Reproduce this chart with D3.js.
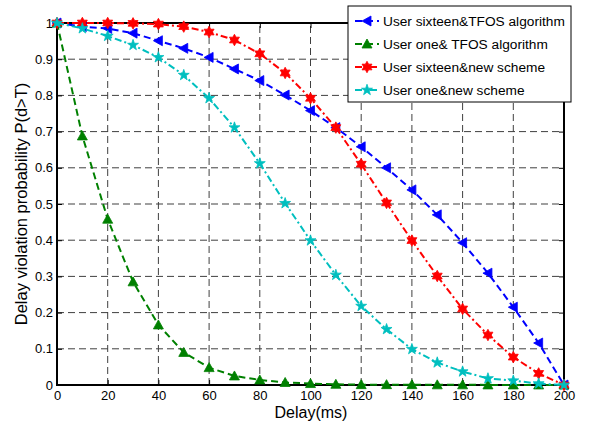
<!DOCTYPE html>
<html>
<head>
<meta charset="utf-8">
<script src="https://cdn.jsdelivr.net/npm/d3@7"></script>
<style>
  html, body { margin: 0; padding: 0; background: #fff; }
  svg { display: block; font-family: "Liberation Sans", Arial, sans-serif; }
</style>
</head>
<body>
<svg id="chart" width="592" height="423"></svg>
<script>
// Delay axis (ms), sampled every 10 ms
const delays = [0, 10, 20, 30, 40, 50, 60, 70, 80, 90, 100, 110, 120, 130, 140, 150, 160, 170, 180, 190, 200];

const sixteenTFOS = [1.0, 0.99, 0.985, 0.972, 0.951, 0.93, 0.905, 0.873, 0.841, 0.801, 0.758, 0.711, 0.658, 0.600, 0.539, 0.47, 0.393, 0.309, 0.215, 0.116, 0.0];
const oneTFOS = [1.0, 0.688, 0.458, 0.285, 0.166, 0.09, 0.048, 0.025, 0.014, 0.007, 0.004, 0.002, 0.001, 0.001, 0.001, 0.0005, 0.0005, 0.0003, 0.0002, 0.0001, 0.0];
const sixteenNew = [1.0, 1.0, 1.0, 0.999, 0.997, 0.99, 0.975, 0.953, 0.915, 0.862, 0.792, 0.711, 0.61, 0.503, 0.399, 0.301, 0.21, 0.138, 0.077, 0.032, 0.0];
const oneNew = [1.0, 0.985, 0.964, 0.939, 0.905, 0.856, 0.792, 0.711, 0.612, 0.502, 0.399, 0.304, 0.218, 0.154, 0.099, 0.062, 0.037, 0.018, 0.012, 0.004, 0.0];

const xTicks = [0, 20, 40, 60, 80, 100, 120, 140, 160, 180, 200];
const yTicks = [0, 0.1, 0.2, 0.3, 0.4, 0.5, 0.6, 0.7, 0.8, 0.9, 1];
const yTickLabels = ["0", "0.1", "0.2", "0.3", "0.4", "0.5", "0.6", "0.7", "0.8", "0.9", "1"];

const seriesNames = ["User sixteen&TFOS algorithm", "User one& TFOS algorithm", "User sixteen&new scheme", "User one&new scheme"];
const seriesValues = [sixteenTFOS, oneTFOS, sixteenNew, oneNew];
const seriesColors = ["#0000ff", "#008000", "#ff0000", "#00bfbf"];
const seriesDash = ["7,4", "7,4", "7,3,2,3", "7,3,2,3"];
const seriesMarker = ["triLeft", "triUp", "hexagram", "pentagram"];

const svg = d3.select("#chart");
const L = 57, R = 564, T = 23, B = 385;

const x = d3.scaleLinear().domain([0, 200]).range([L, R]);
const y = d3.scaleLinear().domain([0, 1]).range([B, T]);

// Grid lines
const grid = svg.append("g").attr("stroke", "#000").attr("stroke-width", 1)
  .attr("stroke-dasharray", "7,4").attr("opacity", 0.75);
xTicks.slice(1, -1).forEach(v => {
  grid.append("line").attr("x1", x(v)).attr("x2", x(v)).attr("y1", B).attr("y2", T);
});
yTicks.slice(1, -1).forEach(v => {
  grid.append("line").attr("x1", L).attr("x2", R).attr("y1", y(v)).attr("y2", y(v));
});

// Axes with inward ticks
const xAxis = d3.axisBottom(x).tickValues(xTicks).tickSizeInner(-5).tickSizeOuter(0).tickPadding(7);
const yAxis = d3.axisLeft(y).tickValues(yTicks).tickFormat((d, i) => yTickLabels[i]).tickSizeInner(-5).tickSizeOuter(0).tickPadding(4);

const gx = svg.append("g").attr("transform", `translate(0,${B})`).call(xAxis);
const gy = svg.append("g").attr("transform", `translate(${L},0)`).call(yAxis);
[gx, gy].forEach(g => {
  g.select(".domain").remove();
  g.selectAll("text").attr("font-size", 13).attr("fill", "#000");
  g.selectAll(".tick line").attr("stroke", "#000");
});
gx.selectAll("text").attr("dy", "0.6em");

// Mirror ticks on top and right
const gTop = svg.append("g").attr("transform", `translate(0,${T})`)
  .call(d3.axisTop(x).tickValues(xTicks).tickSizeInner(-5).tickSizeOuter(0).tickFormat(""));
const gRight = svg.append("g").attr("transform", `translate(${R},0)`)
  .call(d3.axisRight(y).tickValues(yTicks).tickSizeInner(-5).tickSizeOuter(0).tickFormat(""));
[gTop, gRight].forEach(g => g.select(".domain").remove());

// Axis frame
svg.append("rect").attr("x", L).attr("y", T).attr("width", R - L).attr("height", B - T)
  .attr("fill", "none").attr("stroke", "#000").attr("stroke-width", 2);

// Marker shapes
function markerPath(type, s) {
  if (type === "triLeft") {
    return `M${-s},0L${s * 0.8},${-s}L${s * 0.8},${s}Z`;
  }
  if (type === "triUp") {
    return `M0,${-s}L${s},${s * 0.8}L${-s},${s * 0.8}Z`;
  }
  const n = type === "hexagram" ? 6 : 5;
  const rOut = s * 1.15, rIn = type === "hexagram" ? s * 0.65 : s * 0.45;
  const pts = [];
  for (let i = 0; i < 2 * n; i++) {
    const a = -Math.PI / 2 + i * Math.PI / n;
    const r = i % 2 === 0 ? rOut : rIn;
    pts.push([r * Math.cos(a), r * Math.sin(a)]);
  }
  return "M" + pts.map(p => p[0].toFixed(2) + "," + p[1].toFixed(2)).join("L") + "Z";
}

const line = d3.line().x((d, i) => x(delays[i])).y(d => y(d));

seriesValues.forEach((vals, k) => {
  const g = svg.append("g");
  g.append("path").attr("d", line(vals)).attr("fill", "none")
    .attr("stroke", seriesColors[k]).attr("stroke-width", 2)
    .attr("stroke-dasharray", seriesDash[k]);
  g.selectAll("path.m").data(vals).enter().append("path").attr("class", "m")
    .attr("transform", (d, i) => `translate(${x(delays[i])},${y(d)})`)
    .attr("d", markerPath(seriesMarker[k], 5))
    .attr("fill", seriesColors[k]).attr("stroke", seriesColors[k]).attr("stroke-width", 0.8);
});

// Legend
const lg = svg.append("g");
lg.append("rect").attr("x", 348).attr("y", 6).attr("width", 223).attr("height", 96)
  .attr("fill", "#fff").attr("stroke", "#000").attr("stroke-width", 1);
seriesNames.forEach((name, k) => {
  const cy = 21 + k * 23;
  lg.append("line").attr("x1", 355).attr("x2", 379).attr("y1", cy).attr("y2", cy)
    .attr("stroke", seriesColors[k]).attr("stroke-width", 2).attr("stroke-dasharray", seriesDash[k]);
  lg.append("path").attr("transform", `translate(367,${cy})`).attr("d", markerPath(seriesMarker[k], 5))
    .attr("fill", seriesColors[k]).attr("stroke", seriesColors[k]).attr("stroke-width", 0.8);
  lg.append("text").attr("x", 383).attr("y", cy).attr("dy", "0.35em")
    .attr("font-size", 13.7).attr("fill", "#000").text(name);
});

// Axis titles
svg.append("text").attr("x", 311).attr("y", 418).attr("text-anchor", "middle")
  .attr("font-size", 16).attr("fill", "#000").text("Delay(ms)");
svg.append("text").attr("transform", `translate(27,204) rotate(-90)`)
  .attr("text-anchor", "middle").attr("font-size", 16.5).attr("fill", "#000")
  .text("Delay violation probability P(d>T)");
</script>
</body>
</html>
